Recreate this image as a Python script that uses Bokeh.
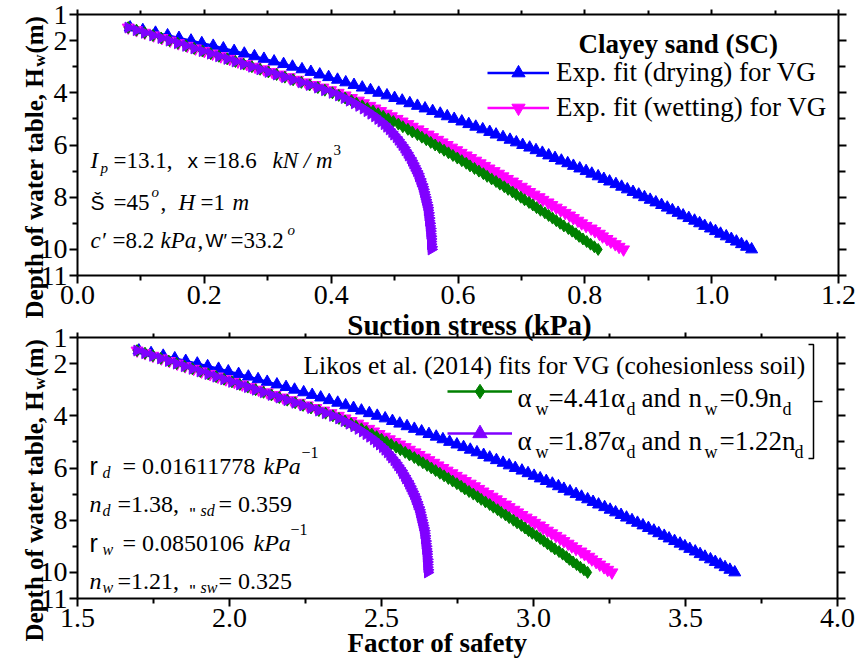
import numpy as np
from bokeh.plotting import figure
from bokeh.models import (Range1d, LinearAxis, FixedTicker, PrintfTickFormatter,
                          Label, Legend, LegendItem)
from bokeh.embed import file_html
from bokeh.resources import INLINE

# ---------------- data ----------------
depth = [1.5, 1.6, 1.7, 1.8, 1.9, 2.0, 2.1, 2.2, 2.3, 2.4,
         2.5, 2.6, 2.7, 2.8, 2.9, 3.0, 3.1, 3.2, 3.3, 3.4,
         3.5, 3.6, 3.7, 3.8, 3.9, 4.0, 4.1, 4.2, 4.3, 4.4,
         4.5, 4.6, 4.7, 4.8, 4.9, 5.0, 5.1, 5.2, 5.3, 5.4,
         5.5, 5.6, 5.7, 5.8, 5.9, 6.0, 6.1, 6.2, 6.3, 6.4,
         6.5, 6.6, 6.7, 6.8, 6.9, 7.0, 7.1, 7.2, 7.3, 7.4,
         7.5, 7.6, 7.7, 7.8, 7.9, 8.0, 8.1, 8.2, 8.3, 8.4,
         8.5, 8.6, 8.7, 8.8, 8.9, 9.0, 9.1, 9.2, 9.3, 9.4,
         9.5, 9.6, 9.7, 9.8, 9.9, 10.0]

# suction stress (kPa)
suction_drying = [0.083, 0.103, 0.123, 0.142, 0.160, 0.179, 0.196, 0.214, 0.230, 0.247,
                  0.263, 0.279, 0.294, 0.310, 0.325, 0.339, 0.354, 0.368, 0.382, 0.396,
                  0.410, 0.423, 0.436, 0.449, 0.462, 0.475, 0.488, 0.500, 0.512, 0.524,
                  0.536, 0.548, 0.560, 0.572, 0.583, 0.594, 0.606, 0.617, 0.628, 0.639,
                  0.650, 0.660, 0.671, 0.682, 0.692, 0.702, 0.713, 0.723, 0.733, 0.743,
                  0.753, 0.763, 0.773, 0.782, 0.792, 0.802, 0.811, 0.821, 0.830, 0.839,
                  0.849, 0.858, 0.867, 0.876, 0.885, 0.894, 0.903, 0.912, 0.921, 0.930,
                  0.938, 0.947, 0.955, 0.964, 0.973, 0.981, 0.989, 0.998, 1.006, 1.014,
                  1.023, 1.031, 1.039, 1.047, 1.055, 1.063]
suction_wetting = [0.080, 0.093, 0.106, 0.120, 0.133, 0.146, 0.159, 0.173, 0.186, 0.200,
                   0.213, 0.226, 0.240, 0.253, 0.267, 0.280, 0.294, 0.307, 0.320, 0.334,
                   0.347, 0.360, 0.374, 0.387, 0.399, 0.411, 0.422, 0.432, 0.443, 0.451,
                   0.461, 0.469, 0.478, 0.487, 0.495, 0.504, 0.512, 0.521, 0.528, 0.537,
                   0.544, 0.553, 0.560, 0.568, 0.575, 0.583, 0.590, 0.598, 0.605, 0.613,
                   0.620, 0.628, 0.635, 0.642, 0.649, 0.657, 0.664, 0.671, 0.678, 0.686,
                   0.692, 0.700, 0.706, 0.713, 0.720, 0.728, 0.734, 0.742, 0.748, 0.755,
                   0.762, 0.769, 0.776, 0.782, 0.789, 0.795, 0.802, 0.810, 0.816, 0.823,
                   0.828, 0.835, 0.841, 0.848, 0.854, 0.861]
suction_likos_a = [0.080, 0.093, 0.106, 0.119, 0.132, 0.145, 0.158, 0.171, 0.184, 0.197,
                   0.210, 0.223, 0.236, 0.249, 0.262, 0.275, 0.288, 0.301, 0.314, 0.327,
                   0.340, 0.353, 0.366, 0.379, 0.390, 0.402, 0.412, 0.422, 0.432, 0.440,
                   0.449, 0.457, 0.466, 0.474, 0.482, 0.490, 0.498, 0.506, 0.513, 0.521,
                   0.528, 0.536, 0.543, 0.550, 0.557, 0.564, 0.571, 0.578, 0.585, 0.592,
                   0.599, 0.606, 0.613, 0.619, 0.626, 0.633, 0.640, 0.646, 0.653, 0.660,
                   0.666, 0.673, 0.679, 0.686, 0.692, 0.699, 0.705, 0.712, 0.718, 0.724,
                   0.730, 0.737, 0.743, 0.749, 0.755, 0.761, 0.767, 0.774, 0.780, 0.786,
                   0.791, 0.797, 0.803, 0.809, 0.815, 0.821]
suction_likos_b = [0.080, 0.093, 0.106, 0.119, 0.132, 0.145, 0.158, 0.171, 0.184, 0.197,
                   0.210, 0.223, 0.236, 0.249, 0.262, 0.275, 0.288, 0.301, 0.314, 0.327,
                   0.340, 0.353, 0.366, 0.379, 0.390, 0.402, 0.412, 0.421, 0.429, 0.437,
                   0.444, 0.451, 0.457, 0.463, 0.469, 0.474, 0.479, 0.484, 0.488, 0.492,
                   0.496, 0.499, 0.503, 0.506, 0.509, 0.512, 0.515, 0.517, 0.520, 0.522,
                   0.525, 0.527, 0.529, 0.531, 0.533, 0.535, 0.537, 0.538, 0.540, 0.541,
                   0.543, 0.544, 0.545, 0.546, 0.547, 0.548, 0.549, 0.550, 0.551, 0.552,
                   0.552, 0.553, 0.553, 0.554, 0.554, 0.555, 0.555, 0.556, 0.556, 0.556,
                   0.557, 0.557, 0.557, 0.557, 0.558, 0.558]

# factor of safety
fs_drying = [1.702, 1.742, 1.782, 1.820, 1.856, 1.894, 1.928, 1.964, 1.996, 2.030,
             2.062, 2.094, 2.124, 2.156, 2.186, 2.214, 2.244, 2.272, 2.300, 2.328,
             2.356, 2.382, 2.408, 2.434, 2.460, 2.486, 2.512, 2.536, 2.560, 2.584,
             2.608, 2.632, 2.656, 2.680, 2.702, 2.724, 2.748, 2.770, 2.792, 2.814,
             2.836, 2.856, 2.878, 2.900, 2.920, 2.940, 2.962, 2.982, 3.002, 3.022,
             3.042, 3.062, 3.082, 3.100, 3.120, 3.140, 3.158, 3.178, 3.196, 3.214,
             3.234, 3.252, 3.270, 3.288, 3.306, 3.324, 3.342, 3.360, 3.378, 3.396,
             3.412, 3.430, 3.446, 3.464, 3.482, 3.498, 3.514, 3.532, 3.548, 3.564,
             3.582, 3.598, 3.614, 3.630, 3.646, 3.662]
fs_wetting = [1.696, 1.722, 1.748, 1.776, 1.802, 1.828, 1.854, 1.882, 1.908, 1.936,
              1.962, 1.988, 2.016, 2.042, 2.070, 2.096, 2.124, 2.150, 2.176, 2.204,
              2.230, 2.256, 2.284, 2.310, 2.334, 2.358, 2.380, 2.400, 2.422, 2.438,
              2.458, 2.474, 2.492, 2.510, 2.526, 2.544, 2.560, 2.578, 2.592, 2.610,
              2.624, 2.642, 2.656, 2.672, 2.686, 2.702, 2.716, 2.732, 2.746, 2.762,
              2.776, 2.792, 2.806, 2.820, 2.834, 2.850, 2.864, 2.878, 2.892, 2.908,
              2.920, 2.936, 2.948, 2.962, 2.976, 2.992, 3.004, 3.020, 3.032, 3.046,
              3.060, 3.074, 3.088, 3.100, 3.114, 3.126, 3.140, 3.156, 3.168, 3.182,
              3.192, 3.206, 3.218, 3.232, 3.244, 3.258]
fs_likos_a = [1.696, 1.722, 1.748, 1.774, 1.800, 1.826, 1.852, 1.878, 1.904, 1.930,
              1.956, 1.982, 2.008, 2.034, 2.060, 2.086, 2.112, 2.138, 2.164, 2.190,
              2.216, 2.242, 2.268, 2.294, 2.316, 2.340, 2.360, 2.380, 2.400, 2.416,
              2.434, 2.450, 2.468, 2.484, 2.500, 2.516, 2.532, 2.548, 2.562, 2.578,
              2.592, 2.608, 2.622, 2.636, 2.650, 2.664, 2.678, 2.692, 2.706, 2.720,
              2.734, 2.748, 2.762, 2.774, 2.788, 2.802, 2.816, 2.828, 2.842, 2.856,
              2.868, 2.882, 2.894, 2.908, 2.920, 2.934, 2.946, 2.960, 2.972, 2.984,
              2.996, 3.010, 3.022, 3.034, 3.046, 3.058, 3.070, 3.084, 3.096, 3.108,
              3.118, 3.130, 3.142, 3.154, 3.166, 3.178]
fs_likos_b = [1.696, 1.722, 1.748, 1.774, 1.800, 1.826, 1.852, 1.878, 1.904, 1.930,
              1.956, 1.982, 2.008, 2.034, 2.060, 2.086, 2.112, 2.138, 2.164, 2.190,
              2.216, 2.242, 2.268, 2.294, 2.316, 2.340, 2.360, 2.378, 2.394, 2.410,
              2.424, 2.438, 2.450, 2.462, 2.474, 2.484, 2.494, 2.504, 2.512, 2.520,
              2.528, 2.534, 2.542, 2.548, 2.554, 2.560, 2.566, 2.570, 2.576, 2.580,
              2.586, 2.590, 2.594, 2.598, 2.602, 2.606, 2.610, 2.612, 2.616, 2.618,
              2.622, 2.624, 2.626, 2.628, 2.630, 2.632, 2.634, 2.636, 2.638, 2.640,
              2.640, 2.642, 2.642, 2.644, 2.644, 2.646, 2.646, 2.648, 2.648, 2.648,
              2.650, 2.650, 2.650, 2.650, 2.652, 2.652]

# ticks
depth_ticks = [1, 2, 4, 6, 8, 10, 11]
depth_minor = [3, 5, 7, 9]
suction_ticks = [0.0, 0.2, 0.4, 0.6, 0.8, 1.0, 1.2]
suction_minor = [0.1, 0.3, 0.5, 0.7, 0.9, 1.1]
fs_ticks = [1.5, 2.0, 2.5, 3.0, 3.5, 4.0]
fs_minor = [1.75, 2.25, 2.75, 3.25, 3.75]

# labels
label_drying = "Exp. fit (drying) for VG"
label_wetting = "Exp. fit (wetting) for VG"
soil_title = "Clayey sand (SC)"
likos_title = "Likos et al. (2014) fits for VG (cohesionless soil)"

SERIF = "Liberation Serif"
SANS = "Liberation Sans"
BLUE, MAGENTA, GREEN, PURPLE = "#0000ff", "#ff00ff", "#008000", "#8000ff"
W, H = 858, 659

# page pixel -> data for the two panels
# (top frame 77..838 x 14..275, bottom frame 77..837 x 337..598)
def conv_top(px, py):
    return (px - 77) * 1.2 / 761.0, 1 + (py - 14) * 10 / 261.0

def conv_bot(px, py):
    return 1.5 + (px - 77) * 2.5 / 760.0, 1 + (py - 337) * 10 / 261.0

# one canvas, the plotting frame covers all of it; each panel has its own ranges
p = figure(width=W, height=H, title=None, output_backend="svg", toolbar_location=None,
           x_axis_location=None, y_axis_location=None,
           x_range=Range1d(conv_top(0, 0)[0], conv_top(W, 0)[0]),
           y_range=Range1d(conv_top(0, H)[1], conv_top(0, 0)[1]),
           min_border_left=0, min_border_right=0, min_border_top=0, min_border_bottom=0)
p.extra_x_ranges = {"fs": Range1d(conv_bot(0, 0)[0], conv_bot(W, 0)[0])}
p.extra_y_ranges = {"d2": Range1d(conv_bot(0, H)[1], conv_bot(0, 0)[1])}
p.grid.visible = False
p.outline_line_color = None
p.background_fill_color = "white"
p.border_fill_color = "white"

BOT = dict(x_range_name="fs", y_range_name="d2")
TOPR = dict()


def add_axis(side, ticks, minor, loc, bounds, labels, t_major, t_minor, rng, fmt=None):
    ax = LinearAxis(fixed_location=loc, bounds=bounds, **rng)
    ax.ticker = FixedTicker(ticks=ticks, minor_ticks=minor)
    ax.axis_line_width = 2
    ax.axis_line_color = "black"
    ax.major_tick_line_width = 2
    ax.minor_tick_line_width = 2
    ax.major_tick_line_color = "black"
    ax.minor_tick_line_color = "black"
    ax.major_tick_in = 0
    ax.minor_tick_in = 0
    ax.major_tick_out = t_major
    ax.minor_tick_out = t_minor
    if labels:
        ax.major_label_text_font = SERIF
        ax.major_label_text_font_size = "28px"
        ax.major_label_text_color = "black"
        ax.major_label_standoff = 2
        if fmt is not None:
            ax.formatter = fmt
    else:
        ax.major_label_overrides = {t: "" for t in ticks}
        ax.major_label_text_font_size = "1px"
        ax.major_label_standoff = 0
    p.add_layout(ax, side)


def panel_axes(xt, xm, x0, x1, rng):
    add_axis("below", xt, xm, 11, (x0, x1), True, 8, 5, rng, PrintfTickFormatter(format="%.1f"))
    add_axis("left", depth_ticks, depth_minor, x0, (1, 11), True, 8, 5, rng, PrintfTickFormatter(format="%d"))
    add_axis("above", xt, xm, 1, (x0, x1), False, 5, 4, rng)
    add_axis("right", depth_ticks, depth_minor, x1, (1, 11), False, 8, 7, rng)


def put(conv, rng, px, py, text, size, style="normal", font=SERIF, align="left", angle=0.0):
    x, y = conv(px, py)
    p.add_layout(Label(x=x, y=y, text=text, text_font=font, text_font_size=f"{size}px",
                       text_font_style=style, text_align=align, text_baseline="alphabetic",
                       angle=angle, text_color="black", **rng))


def y_title(conv, rng, px, py_start):
    size, sub = 25, 17
    put(conv, rng, px, py_start, "Depth of water table, H", size, "bold", angle=np.pi / 2)
    y_end = py_start - 10.026 * size
    put(conv, rng, px + 5, y_end - 1, "w", sub, "bold", angle=np.pi / 2)
    y_end2 = y_end - 2 - 0.722 * sub
    put(conv, rng, px, y_end2, " (m)", size, "bold", angle=np.pi / 2)


def draw_series(xs_list, rng):
    colors = [BLUE, MAGENTA, GREEN, PURPLE]
    markers = ["triangle", "inverted_triangle", "diamond", "triangle"]
    angles = [0, 0, 0, -np.pi / 2]
    sizes = [12, 12, 12, 11]
    rends = []
    for xs, c, m, a, s in zip(xs_list, colors, markers, angles, sizes):
        ln = p.line(xs, depth, line_color=c, line_width=2.5, **rng)
        sc = p.scatter(xs, depth, marker=m, size=s, angle=a, fill_color=c, line_color=c, **rng)
        rends.append((ln, sc))
    return rends


# ---------------- top panel ----------------
r1 = draw_series([suction_drying, suction_wetting, suction_likos_a, suction_likos_b], TOPR)
panel_axes(suction_ticks, suction_minor, 0.0, 1.2, TOPR)
leg1 = Legend(items=[LegendItem(label=label_drying, renderers=list(r1[0])),
                     LegendItem(label=label_wetting, renderers=list(r1[1]))],
              location=(487, H - 123.5), orientation="vertical", glyph_width=62, glyph_height=33,
              label_height=33, spacing=2, padding=0, margin=0, label_standoff=7,
              label_text_font=SERIF, label_text_font_size="27px", label_text_color="black",
              border_line_color=None, background_fill_alpha=0)
p.add_layout(leg1)
put(conv_top, TOPR, 578, 43, soil_title, 27, "bold")
put(conv_top, TOPR, 469, 324, "Suction stress (kPa)", 29, "bold", align="center")
y_title(conv_top, TOPR, 34, 318)

ann_top = [
    (90, 160, "I", 23, "italic", SERIF),
    (100, 167, "p", 15, "italic", SERIF),
    (113, 160, "=13.1,", 23, "normal", SERIF),
    (187, 160, "x", 21, "normal", SANS),
    (203, 160, "=18.6", 23, "normal", SERIF),
    (272, 160, "kN / m", 23, "italic", SERIF),
    (333, 149, "3", 15, "normal", SERIF),
    (90, 202, "Š", 21, "normal", SANS),
    (113, 202, "=45", 23, "normal", SERIF),
    (151, 191, "o", 15, "italic", SERIF),
    (160, 202, ",", 23, "normal", SERIF),
    (178, 202, "H", 23, "italic", SERIF),
    (200, 202, "=1", 23, "normal", SERIF),
    (232, 202, "m", 23, "italic", SERIF),
    (90, 240, "c′", 23, "italic", SERIF),
    (112, 240, "=8.2", 23, "normal", SERIF),
    (160, 240, "kPa", 23, "italic", SERIF),
    (197, 240, ",", 23, "normal", SERIF),
    (205, 240, "W′", 19, "normal", SANS),
    (230, 240, "=33.2", 23, "normal", SERIF),
    (287, 229, "o", 15, "italic", SERIF),
]
for px, py, t, s, st, f in ann_top:
    put(conv_top, TOPR, px, py, t, s, st, f)

# ---------------- bottom panel ----------------
r2 = draw_series([fs_drying, fs_wetting, fs_likos_a, fs_likos_b], BOT)
panel_axes(fs_ticks, fs_minor, 1.5, 4.0, BOT)
leg2 = Legend(items=[LegendItem(label=" ", renderers=list(r2[2])),
                     LegendItem(label=" ", renderers=list(r2[3]))],
              location=(447, H - 451), orientation="vertical", glyph_width=65, glyph_height=36,
              label_height=36, spacing=6, padding=0, margin=0, label_standoff=2,
              label_text_font_size="10px", border_line_color=None, background_fill_alpha=0)
p.add_layout(leg2)
put(conv_bot, BOT, 303, 365, likos_title, 25.5)

leg_text = [
    (517, 397, "α", 27), (535, 408, "w", 18), (548, 397, "=4.41α", 27), (626, 408, "d", 18),
    (641, 397, "and", 27), (688, 397, "n", 27), (704, 408, "w", 18), (719, 397, "=0.9n", 27),
    (782, 408, "d", 18),
    (517, 440, "α", 27), (535, 451, "w", 18), (548, 440, "=1.87α", 27), (626, 451, "d", 18),
    (641, 440, "and", 27), (688, 440, "n", 27), (704, 451, "w", 18), (719, 440, "=1.22n", 27),
    (794, 451, "d", 18),
]
for px, py, t, s in leg_text:
    put(conv_bot, BOT, px, py, t, s)

# bracket next to the legend
bx_px = [808, 813, 813, 808]
by_px = [344, 344, 458, 458]
bxs, bys = zip(*[conv_bot(a, b) for a, b in zip(bx_px, by_px)])
p.line(list(bxs), list(bys), line_color="black", line_width=1.5, **BOT)
tx0, ty0 = conv_bot(813, 401)
tx1, _ = conv_bot(822, 401)
p.line([tx0, tx1], [ty0, ty0], line_color="black", line_width=1.5, **BOT)

put(conv_bot, BOT, 437, 642, "Factor of safety", 27, "bold", align="center")
y_title(conv_bot, BOT, 34, 641)

ann_bot = [
    (89, 465, "r", 25, "normal", SANS),
    (102, 472, "d", 16, "italic", SERIF),
    (122, 465, "= 0.01611778", 24, "normal", SERIF),
    (263, 465, "kPa", 24, "italic", SERIF),
    (301, 452, "−1", 16, "normal", SERIF),
    (89, 503, "n", 24, "italic", SERIF),
    (102, 510, "d", 16, "italic", SERIF),
    (117, 503, "=1.38,", 24, "normal", SERIF),
    (189, 514, '"', 17, "normal", SANS),
    (200, 510, "sd", 16, "italic", SERIF),
    (218, 503, "= 0.359", 24, "normal", SERIF),
    (89, 542, "r", 25, "normal", SANS),
    (102, 549, "w", 16, "italic", SERIF),
    (122, 542, "= 0.0850106", 24, "normal", SERIF),
    (253, 542, "kPa", 24, "italic", SERIF),
    (290, 529, "−1", 16, "normal", SERIF),
    (89, 580, "n", 24, "italic", SERIF),
    (102, 587, "w", 16, "italic", SERIF),
    (117, 580, "=1.21,", 24, "normal", SERIF),
    (189, 591, '"', 17, "normal", SANS),
    (200, 587, "sw", 16, "italic", SERIF),
    (218, 580, "= 0.325", 24, "normal", SERIF),
]
for px, py, t, s, st, f in ann_bot:
    put(conv_bot, BOT, px, py, t, s, st, f)

open("out.html", "w").write(file_html(p, INLINE))
